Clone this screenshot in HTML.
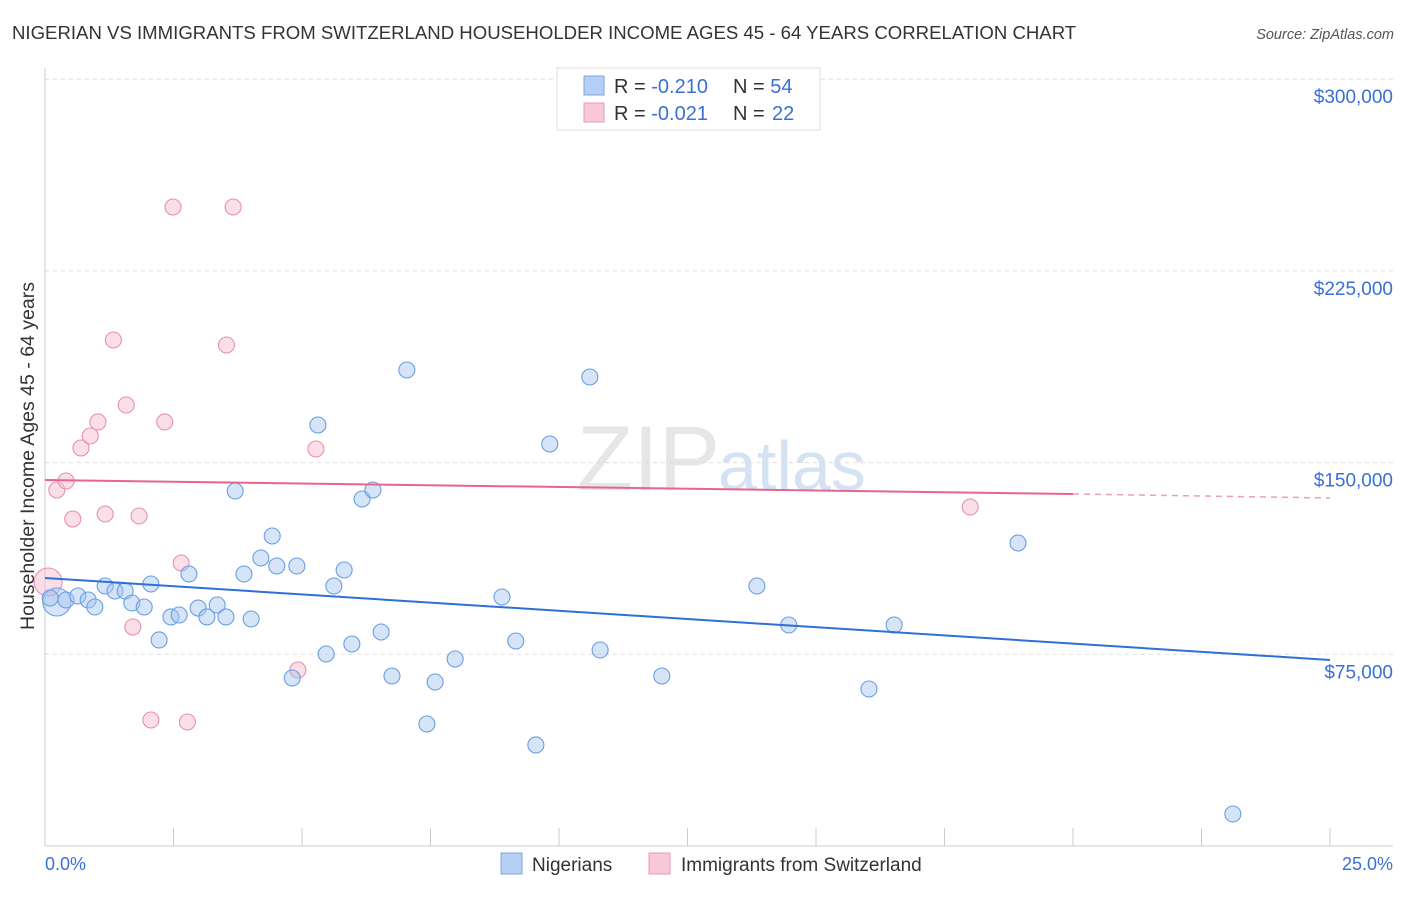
<!DOCTYPE html>
<html><head><meta charset="utf-8"><style>
body{margin:0;background:#fff;font-family:"Liberation Sans",sans-serif}
svg text{font-family:"Liberation Sans",sans-serif}
</style></head><body>
<svg id="c" width="1406" height="892" xmlns="http://www.w3.org/2000/svg">
<text x="12" y="39" font-size="18.6" fill="#333">NIGERIAN VS IMMIGRANTS FROM SWITZERLAND HOUSEHOLDER INCOME AGES 45 - 64 YEARS CORRELATION CHART</text>
<text x="1394" y="39" font-size="14.5" fill="#555" font-style="italic" text-anchor="end">Source: ZipAtlas.com</text>
<text x="720" y="490" font-size="92" fill="#e6e6e6" text-anchor="end" font-family="Liberation Serif">ZIP</text>
<text x="718" y="490" font-size="70" fill="#d4e2f4">atlas</text>
<g id="grid"></g><g id="axes"></g><g id="pts"></g><g id="trend"></g>
<text transform="translate(34,456) rotate(-90)" font-size="19.5" fill="#333" text-anchor="middle">Householder Income Ages 45 - 64 years</text>
<text x="45" y="870" font-size="18" fill="#3a6fd8">0.0%</text>
<text x="1393" y="870" font-size="18" fill="#3a6fd8" text-anchor="end">25.0%</text>
<g>
<rect x="557" y="68" width="263" height="62" fill="#fff" stroke="#ddd"/>
<rect x="584" y="76" width="20" height="19" fill="#b4d0f4" stroke="#7aa6e0"/>
<rect x="584" y="103" width="20" height="19" fill="#f8c8d6" stroke="#ec9ab4"/>
<text x="614" y="93" font-size="20" fill="#333">R = <tspan fill="#3a6fd8">-0.210</tspan></text>
<text x="733" y="93" font-size="20" fill="#333">N = <tspan fill="#3a6fd8">54</tspan></text>
<text x="614" y="120" font-size="20" fill="#333">R = <tspan fill="#3a6fd8">-0.021</tspan></text>
<text x="733" y="120" font-size="20" fill="#333">N = <tspan fill="#3a6fd8" x="772">22</tspan></text>
</g>
<g>
<rect x="501" y="853" width="21" height="21" fill="#b4d0f4" stroke="#7aa6e0"/>
<text x="532" y="871" font-size="19" fill="#333">Nigerians</text>
<rect x="649" y="853" width="21" height="21" fill="#f8c8d6" stroke="#ec9ab4"/>
<text x="681" y="871" font-size="19" fill="#333">Immigrants from Switzerland</text>
</g>
</svg>
<script>
const yTicks=[75000,150000,225000,300000];
const yTickLabels=["$75,000","$150,000","$225,000","$300,000"];
const xTicks=[0,2.5,5,7.5,10,12.5,15,17.5,20,22.5,25];
const blueX=[0.23,0.41,0.64,0.84,0.97,1.17,1.36,1.56,1.69,1.93,2.06,2.22,2.45,2.61,2.80,2.98,3.15,3.35,3.52,3.70,3.87,4.01,4.20,4.42,4.51,4.81,4.90,5.31,5.47,5.62,5.82,5.97,6.17,6.38,6.54,6.75,7.04,7.43,7.59,7.98,8.89,9.16,9.55,9.82,10.60,10.80,12.00,13.85,14.47,16.03,16.52,18.93,23.11,0.10];
const blueY=[95460,96245,97810,96245,93505,101720,99770,99770,95070,93505,102500,80600,89600,90375,106420,93100,89600,94290,89600,138890,106420,88810,112680,121280,109550,65730,109550,164710,75120,101720,107980,79030,135760,139280,83725,66510,186230,47730,64160,73160,97420,80200,39520,157280,183490,76680,66510,101720,86460,61420,86460,118540,12520,97030];
const pinkX=[0.06,0.23,0.41,0.54,0.70,0.88,1.03,1.17,1.33,1.58,1.71,1.83,2.06,2.33,2.49,2.65,2.77,3.53,3.66,4.92,5.27,18.00];
const pinkY=[103290,139280,142800,127930,155710,160410,165890,129890,197970,172540,85680,129110,49300,165890,250000,110720,48510,196010,250000,68860,155320,132630];
const blueTrend=[104850,72770];
const pinkTrend=[143190,137720,136150];
const X=v=>45+v/25*1285, Y=v=>846-v/75000*191.7;
const NS="http://www.w3.org/2000/svg";
function mk(t,a,p){const e=document.createElementNS(NS,t);for(const k in a)e.setAttribute(k,a[k]);p.appendChild(e);return e;}
const g=document.getElementById('grid'),ax=document.getElementById('axes'),pts=document.getElementById('pts'),tr=document.getElementById('trend');
yTicks.forEach((v,i)=>{const l=mk('line',{x1:45,x2:1393,y1:Y(v),y2:Y(v),stroke:'#ddd','stroke-dasharray':'4,4'},g);


const t=mk('text',{x:1393,y:Y(v)+24,'font-size':19,fill:'#3a6fd8','text-anchor':'end'},g);t.textContent=yTickLabels[i];

});
const ya=mk('line',{x1:45,x2:45,y1:68,y2:846,stroke:'#ccc'},ax);


const xa=mk('line',{x1:45,x2:1393,y1:846,y2:846,stroke:'#ccc'},ax);


xTicks.forEach(v=>{const l=mk('line',{x1:X(v),x2:X(v),y1:828,y2:846,stroke:'#ccc'},ax);

});
function dots(xs,ys,fill,stroke,name,big){xs.forEach((x,i)=>{const c=mk('circle',{cx:X(x),cy:Y(ys[i]),r:i===big?14:8,fill:fill,'fill-opacity':0.45,stroke:stroke,'stroke-width':1.1},pts);

});}
dots(pinkX,pinkY,'#f6b8cc','#e890ae','pink-point',0);
dots(blueX,blueY,'#a4c4f0','#6a9ee2','blue-point',0);
const bl=mk('line',{x1:X(0),y1:Y(blueTrend[0]),x2:X(25),y2:Y(blueTrend[1]),stroke:'#2f6fd6','stroke-width':2},tr);


const pl=mk('line',{x1:X(0),y1:Y(pinkTrend[0]),x2:X(20),y2:Y(pinkTrend[1]),stroke:'#e8648e','stroke-width':2},tr);


const pd=mk('line',{x1:X(20),y1:Y(pinkTrend[1]),x2:X(25),y2:Y(pinkTrend[2]),stroke:'#e8a0b8','stroke-width':1.5,'stroke-dasharray':'6,5'},tr);


</script>
</body></html>
